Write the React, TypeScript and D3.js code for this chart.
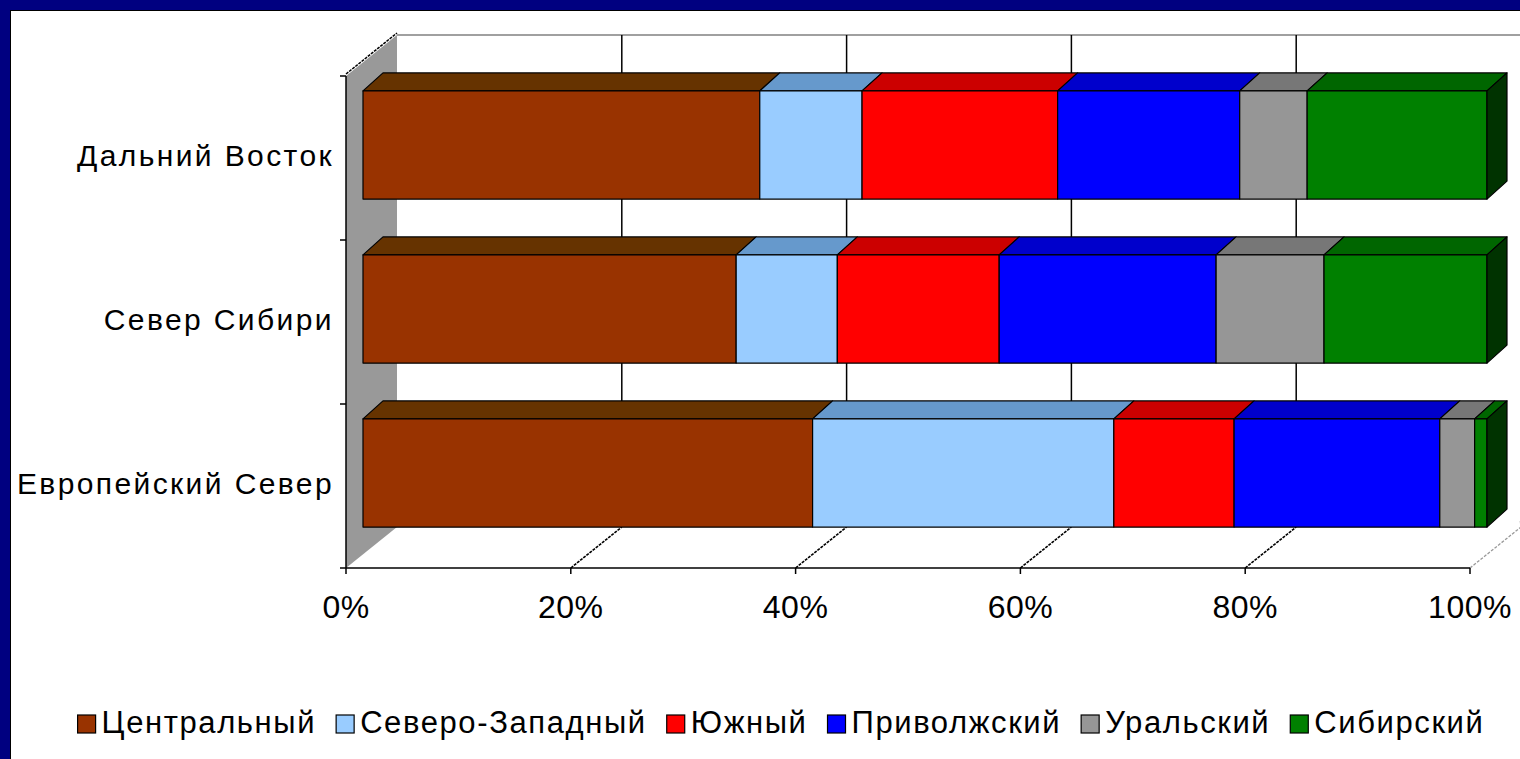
import React, { useEffect, useRef } from 'react';
import * as d3 from 'd3';

// regions, top to bottom
const categories = ['Дальний Восток', 'Север Сибири', 'Европейский Север'];
const seriesNames = ['Центральный', 'Северо-Западный', 'Южный', 'Приволжский', 'Уральский', 'Сибирский'];

// shares in %, one array per series, in the order of categories
const central = [35.3, 33.2, 40.0];
const northWest = [9.1, 9.0, 26.8];
const south = [17.4, 14.4, 10.7];
const volga = [16.2, 19.3, 18.3];
const ural = [6.0, 9.6, 3.1];
const siberia = [16.0, 14.5, 1.1];

const xTicks = [0, 0.2, 0.4, 0.6, 0.8, 1];

const frontColors = ['#993300', '#99CCFF', '#FF0000', '#0000FF', '#969696', '#008000'];
const topColors = ['#663300', '#6699CC', '#CC0000', '#0000CC', '#777777', '#006600'];
const sideColors = ['#4d1a00', '#4d6680', '#800000', '#000080', '#4b4b4b', '#003300'];

const W = 1520;
const H = 759;
const FONT = '"Liberation Sans", Arial, sans-serif';

const App: React.FC = () => {
  const ref = useRef<SVGSVGElement | null>(null);

  useEffect(() => {
    if (!ref.current) return;
    const svg = d3.select(ref.current);
    svg.selectAll('*').remove();

    const values = [central, northWest, south, volga, ural, siberia];
    const table = categories.map((c, i) => {
      const row: any = { category: c };
      seriesNames.forEach((s, j) => (row[s] = values[j][i]));
      return row;
    });
    const stacked = d3.stack<any>().keys(seriesNames).offset(d3.stackOffsetExpand)(table);

    // front plane of the axes
    const x = d3.scaleLinear().domain([0, 1]).range([346, 1470]);
    const y = d3.scaleBand().domain(categories).range([76, 568]).paddingInner(0.34).paddingOuter(0.17);
    const back = { dx: 51, dy: -41 }; // depth of the walls
    const barOff = { dx: 17, dy: -13 }; // front face of the bars
    const barDepth = { dx: 20, dy: -18 };
    const y0 = 76;
    const y1 = 568;

    // frame
    svg.append('rect').attr('width', W).attr('height', H).attr('fill', '#000080');
    svg.append('rect').attr('x', 10.5).attr('y', 10.5).attr('width', W).attr('height', H)
      .attr('fill', '#ffffff').attr('stroke', '#000').attr('stroke-width', 1);

    // left wall
    svg.append('polygon')
      .attr('points', [[x(0), y0], [x(0) + back.dx, y0 + back.dy], [x(0) + back.dx, y1 + back.dy], [x(0), y1]].join(' '))
      .attr('fill', '#999999');
    svg.append('line')
      .attr('x1', x(0)).attr('y1', y0 - 2).attr('x2', x(0) + back.dx).attr('y2', y0 + back.dy - 2)
      .attr('stroke', '#000').attr('stroke-width', 1.5).attr('stroke-dasharray', '3,1');

    // back wall top edge and gridlines
    svg.append('line')
      .attr('x1', x(0) + back.dx).attr('y1', y0 + back.dy).attr('x2', W).attr('y2', y0 + back.dy)
      .attr('stroke', '#808080').attr('stroke-width', 1.5);
    svg.append('g').selectAll('line').data(xTicks.slice(1)).join('line')
      .attr('x1', d => x(d) + back.dx).attr('x2', d => x(d) + back.dx)
      .attr('y1', y0 + back.dy).attr('y2', y1 + back.dy)
      .attr('stroke', '#000').attr('stroke-width', 1.5);

    // floor gridlines
    svg.append('g').selectAll('line').data(xTicks.slice(1, -1)).join('line')
      .attr('x1', d => x(d)).attr('y1', y1)
      .attr('x2', d => x(d) + back.dx).attr('y2', y1 + back.dy)
      .attr('stroke', '#000').attr('stroke-width', 1.6).attr('stroke-dasharray', '3,1');
    svg.append('line')
      .attr('x1', x(1)).attr('y1', y1).attr('x2', x(1) + back.dx).attr('y2', y1 + back.dy)
      .attr('stroke', '#999').attr('stroke-width', 1.3).attr('stroke-dasharray', '3,1.5');
    svg.append('line')
      .attr('x1', x(1) + back.dx).attr('y1', y1 + back.dy).attr('x2', W).attr('y2', y1 + back.dy - 6)
      .attr('stroke', '#bbb');

    // bars
    const bars = svg.append('g').attr('stroke', '#000').attr('stroke-width', 1.2).attr('stroke-linejoin', 'round');
    stacked.forEach((layer, si) => {
      layer.forEach((seg, ci) => {
        const cat = categories[ci];
        const X0 = x(seg[0]) + barOff.dx;
        const X1 = x(seg[1]) + barOff.dx;
        const Y0 = (y(cat) as number) + barOff.dy;
        const Y1 = Y0 + y.bandwidth();
        if (X1 - X0 <= 0) return;
        bars.append('polygon')
          .attr('points', [[X0, Y0], [X1, Y0], [X1 + barDepth.dx, Y0 + barDepth.dy], [X0 + barDepth.dx, Y0 + barDepth.dy]].join(' '))
          .attr('fill', topColors[si]);
        bars.append('rect')
          .attr('x', X0).attr('y', Y0).attr('width', X1 - X0).attr('height', Y1 - Y0)
          .attr('fill', frontColors[si]);
        if (si === seriesNames.length - 1) {
          bars.append('polygon')
            .attr('points', [[X1, Y0], [X1 + barDepth.dx, Y0 + barDepth.dy], [X1 + barDepth.dx, Y1 + barDepth.dy], [X1, Y1]].join(' '))
            .attr('fill', sideColors[si]);
        }
      });
    });

    // axes
    const axes = svg.append('g').attr('stroke', '#000').attr('stroke-width', 1.5);
    axes.append('line').attr('x1', x(0)).attr('x2', x(0)).attr('y1', y0).attr('y2', y1);
    axes.append('line').attr('x1', x(0)).attr('x2', x(1)).attr('y1', y1).attr('y2', y1);
    const catTicks = [y0, ...categories.map(c => (y(c) as number) + y.bandwidth() / 2 + y.step() / 2)];
    axes.selectAll('.ct').data(catTicks).join('line').attr('class', 'ct')
      .attr('x1', x(0) - 6).attr('x2', x(0)).attr('y1', d => d).attr('y2', d => d);
    axes.selectAll('.xt').data(xTicks).join('line').attr('class', 'xt')
      .attr('x1', d => x(d)).attr('x2', d => x(d)).attr('y1', y1).attr('y2', y1 + 6);

    // tick labels
    svg.append('g').selectAll('text').data(xTicks).join('text')
      .attr('x', d => x(d)).attr('y', 618)
      .attr('text-anchor', 'middle')
      .style('font-family', FONT).style('font-size', '32px').style('letter-spacing', '0.5px').attr('fill', '#000')
      .text(d => d3.format('.0%')(d));

    svg.append('g').selectAll('text').data(categories).join('text')
      .attr('x', 334)
      .attr('y', d => (y(d) as number) + y.bandwidth() / 2 + 8)
      .attr('text-anchor', 'end')
      .style('font-family', FONT).style('font-size', '30px').style('letter-spacing', '2.4px').attr('fill', '#000')
      .text(d => d);

    // legend
    const legend = svg.append('g');
    let cursor = 0;
    seriesNames.forEach((s, i) => {
      const g = legend.append('g');
      g.append('rect').attr('x', cursor).attr('y', -18).attr('width', 18).attr('height', 18)
        .attr('fill', frontColors[i]).attr('stroke', '#000').attr('stroke-width', 1.2);
      const t = g.append('text').attr('x', cursor + 24).attr('y', 0)
        .style('font-family', FONT).style('font-size', '31px').style('letter-spacing', '1.6px')
        .attr('fill', '#000').text(s);
      const w = (t.node() as SVGTextElement).getComputedTextLength();
      cursor += 24 + w + 20;
    });
    const total = cursor - 20;
    legend.attr('transform', `translate(${781 - total / 2},733)`);
  }, []);

  return (
    <div style={{ position: 'absolute', left: 0, top: 0, width: W, height: H }}>
      <svg ref={ref} width={W} height={H} style={{ display: 'block' }} />
    </div>
  );
};

export default App;
